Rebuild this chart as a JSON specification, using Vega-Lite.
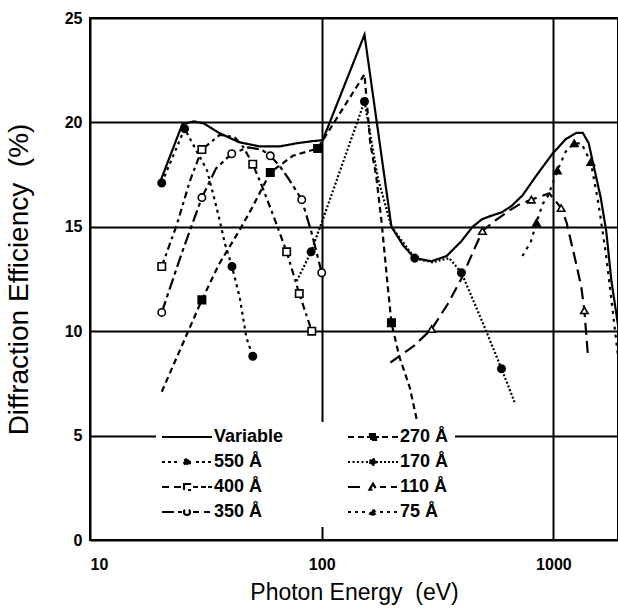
{
  "$schema": "https://vega.github.io/schema/vega-lite/v6.json",
  "width": 528,
  "height": 522,
  "autosize": "none",
  "padding": {"left": 90, "top": 18, "right": 0, "bottom": 68},
  "background": "white",
  "config": {
    "view": {"stroke": "black", "strokeWidth": 2},
    "font": "Liberation Sans",
    "axis": {"labelFont": "Liberation Sans", "titleFont": "Liberation Sans", "labelColor": "black", "titleColor": "black", "labelFontWeight": "bold"}
  },
  "datasets": {
    "curves": [
      {"s": "Variable", "e": 20, "v": 17.1}, {"s": "Variable", "e": 25, "v": 19.9}, {"s": "Variable", "e": 28, "v": 20.05}, {"s": "Variable", "e": 31, "v": 19.95}, {"s": "Variable", "e": 36, "v": 19.5}, {"s": "Variable", "e": 44, "v": 19.05}, {"s": "Variable", "e": 54, "v": 18.85}, {"s": "Variable", "e": 66, "v": 18.85}, {"s": "Variable", "e": 78, "v": 19.0}, {"s": "Variable", "e": 91, "v": 19.1}, {"s": "Variable", "e": 101, "v": 19.15}, {"s": "Variable", "e": 153, "v": 24.2}, {"s": "Variable", "e": 200, "v": 15.0}, {"s": "Variable", "e": 225, "v": 14.1}, {"s": "Variable", "e": 252, "v": 13.5}, {"s": "Variable", "e": 298, "v": 13.35}, {"s": "Variable", "e": 346, "v": 13.6}, {"s": "Variable", "e": 400, "v": 14.3}, {"s": "Variable", "e": 448, "v": 15.0}, {"s": "Variable", "e": 490, "v": 15.35}, {"s": "Variable", "e": 530, "v": 15.5}, {"s": "Variable", "e": 600, "v": 15.7}, {"s": "Variable", "e": 660, "v": 16.0}, {"s": "Variable", "e": 735, "v": 16.5}, {"s": "Variable", "e": 850, "v": 17.5}, {"s": "Variable", "e": 991, "v": 18.5}, {"s": "Variable", "e": 1130, "v": 19.2}, {"s": "Variable", "e": 1257, "v": 19.5}, {"s": "Variable", "e": 1340, "v": 19.5}, {"s": "Variable", "e": 1420, "v": 19.0}, {"s": "Variable", "e": 1500, "v": 17.8}, {"s": "Variable", "e": 1600, "v": 16.4}, {"s": "Variable", "e": 1690, "v": 14.8}, {"s": "Variable", "e": 1780, "v": 12.4}, {"s": "Variable", "e": 1900, "v": 10.3},
      {"s": "550 Å", "e": 20.4, "v": 17.1}, {"s": "550 Å", "e": 25.6, "v": 19.7}, {"s": "550 Å", "e": 28, "v": 18.9}, {"s": "550 Å", "e": 32, "v": 17.7}, {"s": "550 Å", "e": 34.5, "v": 16.3}, {"s": "550 Å", "e": 36.3, "v": 15.3}, {"s": "550 Å", "e": 38.2, "v": 14.2}, {"s": "550 Å", "e": 41, "v": 13.1}, {"s": "550 Å", "e": 44.3, "v": 11.6}, {"s": "550 Å", "e": 47.3, "v": 9.7}, {"s": "550 Å", "e": 50.4, "v": 8.8},
      {"s": "400 Å", "e": 20.4, "v": 13.1}, {"s": "400 Å", "e": 23.7, "v": 15.1}, {"s": "400 Å", "e": 27, "v": 17.2}, {"s": "400 Å", "e": 30.4, "v": 18.7}, {"s": "400 Å", "e": 36.3, "v": 19.4}, {"s": "400 Å", "e": 42, "v": 19.3}, {"s": "400 Å", "e": 46, "v": 18.8}, {"s": "400 Å", "e": 50.4, "v": 18.0}, {"s": "400 Å", "e": 55, "v": 17.0}, {"s": "400 Å", "e": 62, "v": 15.5}, {"s": "400 Å", "e": 70.6, "v": 13.8}, {"s": "400 Å", "e": 80, "v": 11.8}, {"s": "400 Å", "e": 90.6, "v": 10.0},
      {"s": "350 Å", "e": 20.4, "v": 10.9}, {"s": "350 Å", "e": 25, "v": 13.8}, {"s": "350 Å", "e": 30.4, "v": 16.4}, {"s": "350 Å", "e": 35, "v": 17.8}, {"s": "350 Å", "e": 40.9, "v": 18.5}, {"s": "350 Å", "e": 48, "v": 18.8}, {"s": "350 Å", "e": 55, "v": 18.7}, {"s": "350 Å", "e": 60, "v": 18.4}, {"s": "350 Å", "e": 66, "v": 17.9}, {"s": "350 Å", "e": 72, "v": 17.3}, {"s": "350 Å", "e": 82, "v": 16.3}, {"s": "350 Å", "e": 90, "v": 14.8}, {"s": "350 Å", "e": 100, "v": 12.8},
      {"s": "270 Å", "e": 20.4, "v": 7.1}, {"s": "270 Å", "e": 30.4, "v": 11.5}, {"s": "270 Å", "e": 36, "v": 13.2}, {"s": "270 Å", "e": 44, "v": 14.8}, {"s": "270 Å", "e": 50, "v": 15.9}, {"s": "270 Å", "e": 60, "v": 17.6}, {"s": "270 Å", "e": 75, "v": 18.4}, {"s": "270 Å", "e": 96, "v": 18.75}, {"s": "270 Å", "e": 153, "v": 22.3}, {"s": "270 Å", "e": 162, "v": 19.0}, {"s": "270 Å", "e": 172, "v": 17.4}, {"s": "270 Å", "e": 181, "v": 15.3}, {"s": "270 Å", "e": 193, "v": 12.1}, {"s": "270 Å", "e": 200, "v": 10.4}, {"s": "270 Å", "e": 216, "v": 8.8}, {"s": "270 Å", "e": 240, "v": 7.3}, {"s": "270 Å", "e": 259, "v": 5.6},
      {"s": "170 Å", "e": 78, "v": 12.4}, {"s": "170 Å", "e": 90, "v": 13.8}, {"s": "170 Å", "e": 100, "v": 15.2}, {"s": "170 Å", "e": 153, "v": 21.0}, {"s": "170 Å", "e": 175, "v": 17.3}, {"s": "170 Å", "e": 200, "v": 15.0}, {"s": "170 Å", "e": 252, "v": 13.5}, {"s": "170 Å", "e": 300, "v": 13.3}, {"s": "170 Å", "e": 355, "v": 13.5}, {"s": "170 Å", "e": 401, "v": 12.8}, {"s": "170 Å", "e": 500, "v": 10.3}, {"s": "170 Å", "e": 597, "v": 8.2}, {"s": "170 Å", "e": 680, "v": 6.6},
      {"s": "110 Å", "e": 198, "v": 8.5}, {"s": "110 Å", "e": 250, "v": 9.3}, {"s": "110 Å", "e": 298, "v": 10.1}, {"s": "110 Å", "e": 350, "v": 11.3}, {"s": "110 Å", "e": 400, "v": 12.5}, {"s": "110 Å", "e": 450, "v": 13.8}, {"s": "110 Å", "e": 494, "v": 14.8}, {"s": "110 Å", "e": 560, "v": 15.3}, {"s": "110 Å", "e": 650, "v": 15.8}, {"s": "110 Å", "e": 720, "v": 16.1}, {"s": "110 Å", "e": 803, "v": 16.3}, {"s": "110 Å", "e": 960, "v": 16.6}, {"s": "110 Å", "e": 1080, "v": 15.9}, {"s": "110 Å", "e": 1140, "v": 15.2}, {"s": "110 Å", "e": 1250, "v": 13.3}, {"s": "110 Å", "e": 1320, "v": 12.1}, {"s": "110 Å", "e": 1360, "v": 11.0}, {"s": "110 Å", "e": 1410, "v": 8.8},
      {"s": "75 Å", "e": 735, "v": 13.6}, {"s": "75 Å", "e": 800, "v": 14.3}, {"s": "75 Å", "e": 845, "v": 15.2}, {"s": "75 Å", "e": 900, "v": 16.1}, {"s": "75 Å", "e": 950, "v": 16.5}, {"s": "75 Å", "e": 1040, "v": 17.7}, {"s": "75 Å", "e": 1130, "v": 18.6}, {"s": "75 Å", "e": 1230, "v": 19.0}, {"s": "75 Å", "e": 1320, "v": 19.0}, {"s": "75 Å", "e": 1450, "v": 18.1}, {"s": "75 Å", "e": 1560, "v": 16.2}, {"s": "75 Å", "e": 1680, "v": 13.8}, {"s": "75 Å", "e": 1780, "v": 11.5}, {"s": "75 Å", "e": 1900, "v": 8.8}
    ],
    "markers": [
      {"s": "550 Å", "e": 20.4, "v": 17.1}, {"s": "550 Å", "e": 25.6, "v": 19.7}, {"s": "550 Å", "e": 41, "v": 13.1}, {"s": "550 Å", "e": 50.4, "v": 8.8},
      {"s": "400 Å", "e": 20.4, "v": 13.1}, {"s": "400 Å", "e": 30.4, "v": 18.7}, {"s": "400 Å", "e": 50.4, "v": 18.0}, {"s": "400 Å", "e": 70.6, "v": 13.8}, {"s": "400 Å", "e": 80, "v": 11.8}, {"s": "400 Å", "e": 90.6, "v": 10.0},
      {"s": "350 Å", "e": 20.4, "v": 10.9}, {"s": "350 Å", "e": 30.4, "v": 16.4}, {"s": "350 Å", "e": 40.9, "v": 18.5}, {"s": "350 Å", "e": 60, "v": 18.4}, {"s": "350 Å", "e": 82, "v": 16.3}, {"s": "350 Å", "e": 100, "v": 12.8},
      {"s": "270 Å", "e": 30.4, "v": 11.5}, {"s": "270 Å", "e": 60, "v": 17.6}, {"s": "270 Å", "e": 96, "v": 18.75}, {"s": "270 Å", "e": 200, "v": 10.4},
      {"s": "170 Å", "e": 90, "v": 13.8}, {"s": "170 Å", "e": 153, "v": 21.0}, {"s": "170 Å", "e": 252, "v": 13.5}, {"s": "170 Å", "e": 401, "v": 12.8}, {"s": "170 Å", "e": 597, "v": 8.2},
      {"s": "110 Å", "e": 298, "v": 10.1}, {"s": "110 Å", "e": 494, "v": 14.8}, {"s": "110 Å", "e": 803, "v": 16.3}, {"s": "110 Å", "e": 1080, "v": 15.9}, {"s": "110 Å", "e": 1360, "v": 11.0},
      {"s": "75 Å", "e": 845, "v": 15.2}, {"s": "75 Å", "e": 1040, "v": 17.7}, {"s": "75 Å", "e": 1230, "v": 19.0}, {"s": "75 Å", "e": 1450, "v": 18.1}
    ]
  },
  "layer": [
    {
      "data": {"name": "curves"},
      "mark": {"type": "line", "strokeWidth": 2.2},
      "encoding": {
        "x": {"field": "e", "type": "quantitative",
          "scale": {"type": "log", "domain": [10, 1900], "nice": false},
          "axis": {"orient": "bottom", "values": [10, 100, 1000], "format": "d", "labelFontWeight": "bold", "labelFontSize": 16, "labelFlush": true, "labelPadding": 16, "ticks": false, "tickSize": 0, "domain": false, "grid": true, "gridColor": "black", "gridWidth": 2, "gridOpacity": 1, "title": "Photon Energy\u00a0 (eV)", "titleFontSize": 23, "titleFontWeight": "normal", "titlePadding": 9}},
        "y": {"field": "v", "type": "quantitative",
          "scale": {"domain": [0, 25], "nice": false},
          "axis": {"orient": "left", "values": [0, 5, 10, 15, 20, 25], "labelFontWeight": "bold", "labelFontSize": 16, "labelPadding": 8, "ticks": false, "tickSize": 0, "domain": false, "grid": true, "gridColor": "black", "gridWidth": 2, "gridOpacity": 1, "title": "Diffraction Efficiency\u00a0 (%)", "titleFontSize": 28, "titleFontWeight": "normal", "titlePadding": 31}},
        "strokeDash": {"field": "s", "type": "nominal",
          "scale": {"domain": ["Variable", "550 Å", "400 Å", "350 Å", "270 Å", "170 Å", "110 Å", "75 Å"],
                    "range": [[1, 0], [3, 4], [7, 4, 3, 4], [12, 4, 4, 4], [6, 4], [2, 2], [12, 6], [3, 5]]},
          "legend": null},
        "color": {"field": "s", "type": "nominal",
          "scale": {"domain": ["Variable", "550 Å", "400 Å", "350 Å", "270 Å", "170 Å", "110 Å", "75 Å"],
                    "range": ["black", "black", "black", "black", "black", "black", "black", "black"]},
          "legend": {
            "orient": "none", "legendX": 66, "legendY": 404, "columns": 2, "title": null,
            "fillColor": "white", "padding": 6,
            "labelFont": "Liberation Sans", "labelFontSize": 18, "labelFontWeight": "bold", "labelColor": "black",
            "symbolSize": 100, "symbolStrokeWidth": 2, "symbolStrokeColor": "black",
            "symbolOffset": 16, "labelOffset": 18, "rowPadding": 7, "columnPadding": 59,
            "encode": {
              "symbols": {
                "update": {
                  "shape": {"signal": "datum.value=='Variable'?'M-5,0H5':datum.value=='550 Å'?'M-5,0h0.8M-3.8,0h0.8M-2.6,0h0.8M-0.6,0a0.6,0.6 0 1 0 1.2,0a0.6,0.6 0 1 0 -1.2,0M1.8,0h0.8M3,0h0.8M4.2,0h0.8':datum.value=='400 Å'?'M-5,0h1.8M-2.6,0h2M-0.6,-0.6h1.2v1.2h-1.2zM1.2,0h1M2.8,0h1M4.2,0h0.8':datum.value=='350 Å'?'M-5,0h4.4M-0.6,0a0.6,0.6 0 1 0 1.2,0a0.6,0.6 0 1 0 -1.2,0M1.2,0h1.2M3.4,0h1.2':datum.value=='270 Å'?'M-5,0h1.2M-3,0h1.2M-1.2,0h0.6M-0.6,-0.6h1.2v1.2h-1.2zM0.6,0h0.6M1.8,0h1.2M3.8,0h1.2':datum.value=='170 Å'?'M-5,0h0.5M-4.1,0h0.5M-3.2,0h0.5M-2.3,0h0.5M-1.4,0h0.5M-0.6,0a0.6,0.6 0 1 0 1.2,0a0.6,0.6 0 1 0 -1.2,0M0.6,0H5':datum.value=='110 Å'?'M-5,0h2.6M-0.7,0.55L0,-0.65L0.7,0.55ZM1.4,0h1.2M3.6,0h1.2':'M-5,0h0.8M-3.6,0h0.8M-2.2,0h0.8M-0.7,0.55L0,-0.65L0.7,0.55ZM1.4,0h0.8M2.8,0h0.8M4.2,0h0.8'"},
                  "strokeDash": {"value": [1, 0]},
                  "fill": {"signal": "indexof(['550 Å','270 Å','170 Å','75 Å'], datum.value) >= 0 ? 'black' : 'white'"},
                  "fillOpacity": {"value": 1},
                  "strokeWidth": {"value": 2.2}
                }
              }
            }
          }
        }
      }
    },
    {
      "data": {"name": "markers"},
      "mark": {"type": "point", "stroke": "black", "strokeWidth": 1.6, "size": 55, "opacity": 1},
      "encoding": {
        "x": {"field": "e", "type": "quantitative"},
        "y": {"field": "v", "type": "quantitative"},
        "shape": {"field": "s", "type": "nominal",
          "scale": {"domain": ["550 Å", "400 Å", "350 Å", "270 Å", "170 Å", "110 Å", "75 Å"],
                    "range": ["circle", "square", "circle", "square", "circle", "triangle-up", "triangle-up"]},
          "legend": null},
        "fill": {"field": "s", "type": "nominal",
          "scale": {"domain": ["550 Å", "400 Å", "350 Å", "270 Å", "170 Å", "110 Å", "75 Å"],
                    "range": ["black", "white", "white", "black", "black", "white", "black"]},
          "legend": null}
      }
    }
  ]
}
